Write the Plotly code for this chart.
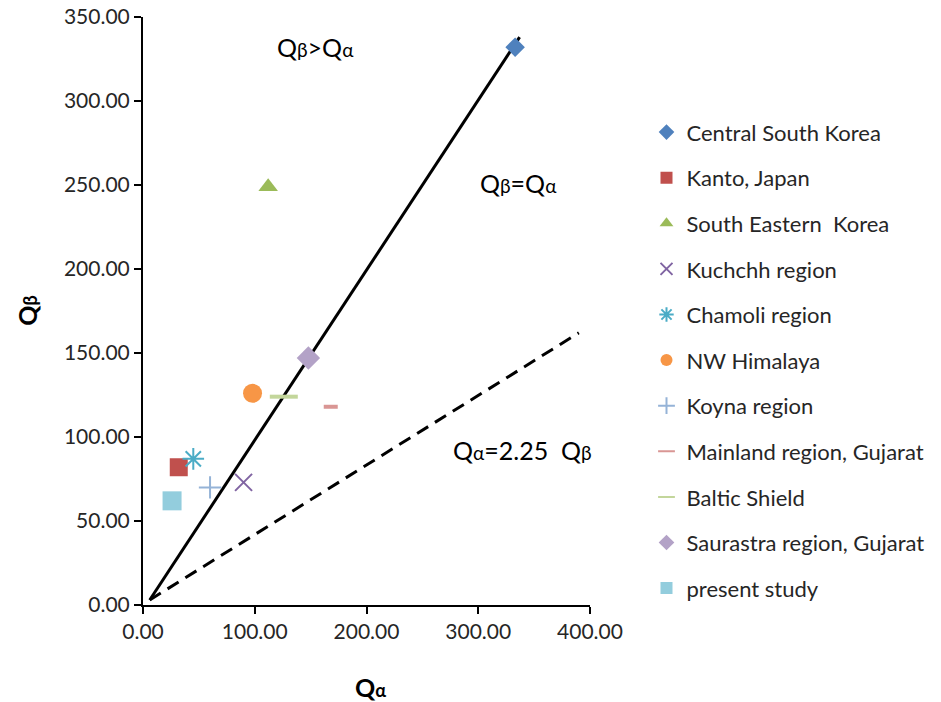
import plotly.graph_objects as go

# Attenuation quality factors (Qα, Qβ) for each study region
regions = ["Central South Korea", "Kanto, Japan", "South Eastern  Korea", "Kuchchh region",
           "Chamoli region", "NW Himalaya", "Koyna region", "Mainland region, Gujarat",
           "Baltic Shield", "Saurastra region, Gujarat", "present study"]
q_alpha = [333, 32, 112, 90, 45, 98, 60, 168, 126, 148, 26]
q_beta = [332, 82, 249, 73, 87, 126, 70, 118, 124, 147, 62]

symbols = ["diamond", "square", "triangle-up", "x-thin-open", "asterisk-open", "circle",
           "cross-thin-open", "line-ew-open", "line-ew-open", "diamond", "square"]
colors = ["#4F81BD", "#C0504D", "#9BBB59", "#8064A2", "#4BACC6", "#F79646",
          "#95B3D7", "#D99694", "#C3D69B", "#B3A2C7", "#93CDDD"]
sizes = [15, 18, 17, 17, 18, 19, 16, 10, 20, 18, 19]
line_widths = [0, 0, 0, 2, 2, 0, 2, 4, 4, 0, 0]

# Reference lines: Qβ = Qα and Qα = 2.25 Qβ
equal_x = [6, 337]
equal_y = [3, 338]
ratio_x = [6, 390]
ratio_y = [3, 162]

font_family = "Lato, 'Open Sans', sans-serif"

fig = go.Figure()
fig.add_trace(go.Scatter(x=equal_x, y=equal_y, mode="lines",
                         line=dict(color="black", width=3), showlegend=False, hoverinfo="skip"))
fig.add_trace(go.Scatter(x=ratio_x, y=ratio_y, mode="lines",
                         line=dict(color="black", width=3, dash="13px,8px"), showlegend=False,
                         hoverinfo="skip"))

for i, name in enumerate(regions):
    fig.add_trace(go.Scatter(
        x=[q_alpha[i]], y=[q_beta[i]], mode="markers", name=name, legendgroup=name,
        marker=dict(symbol=symbols[i], size=sizes[i], color=colors[i],
                    line=dict(color=colors[i], width=line_widths[i])),
    ))

def q_label(sub, small=19):
    return f"Q<span style='font-size:{small}px'>{sub}</span>"

annotations = [
    dict(x=154, y=332, text=q_label("β") + "&gt;" + q_label("α")),
    dict(x=336, y=251, text=q_label("β") + "=" + q_label("α")),
    dict(x=340, y=92, text=q_label("α") + "=2.25  " + q_label("β")),
]
for a in annotations:
    a.update(xref="x", yref="y", showarrow=False,
             font=dict(family=font_family, size=25, color="black"))

# Axis titles
annotations.append(dict(xref="paper", yref="paper", x=0.51, y=-0.139, yanchor="middle",
                        showarrow=False, text="<b>Q<span style='font-size:18px'>α</span></b>",
                        font=dict(family=font_family, size=25, color="black")))
annotations.append(dict(xref="paper", yref="paper", x=-0.26, y=0.5, xanchor="center",
                        yanchor="middle", textangle=-90, showarrow=False,
                        text="<b>Q<span style='font-size:18px'>β</span></b>",
                        font=dict(family=font_family, size=25, color="black")))

fig.update_layout(
    width=941, height=702,
    margin=dict(l=143, r=348, t=17, b=97),
    plot_bgcolor="white", paper_bgcolor="white",
    font=dict(family=font_family, color="#262626"),
    annotations=annotations,
    legend=dict(x=1.1264, y=0.8396, xanchor="left", yanchor="top",
                font=dict(family=font_family, size=22, color="#262626"),
                tracegroupgap=14, itemsizing="constant"),
    xaxis=dict(range=[0, 400], tickvals=[0, 100, 200, 300, 400], tickformat=".2f",
               showgrid=False, zeroline=False, showline=True, linecolor="black", linewidth=2,
               ticks="outside", ticklen=7, tickwidth=2, tickcolor="black", automargin=False,
               tickfont=dict(size=21, color="#262626")),
    yaxis=dict(range=[0, 350], tickvals=[0, 50, 100, 150, 200, 250, 300, 350], tickformat=".2f",
               showgrid=False, zeroline=False, showline=True, linecolor="black", linewidth=2,
               ticks="outside", ticklen=7, tickwidth=2, tickcolor="black", automargin=False,
               tickfont=dict(size=21, color="#262626")),
)

fig.write_html("out.html")
